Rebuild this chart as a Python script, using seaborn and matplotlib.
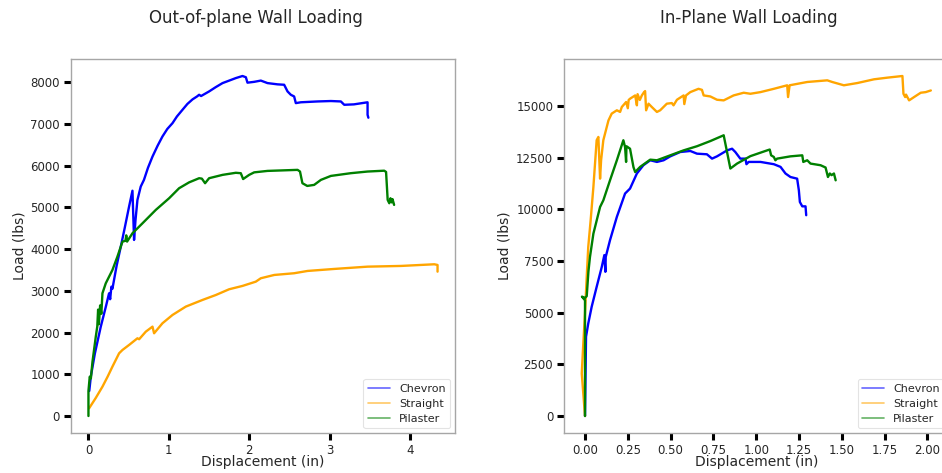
import matplotlib
matplotlib.use("Agg")
import matplotlib.pyplot as plt
from matplotlib.ticker import MultipleLocator, FormatStrFormatter
from matplotlib.lines import Line2D
import seaborn as sns
import pandas as pd

# ---------------- data ----------------
series_names = ["Chevron", "Straight", "Pilaster"]
series_colors = ["blue", "orange", "green"]
titles = ["Out-of-plane Wall Loading", "In-Plane Wall Loading"]
x_label = "Displacement (in)"
y_label = "Load (lbs)"

oop_chevron_x = [0.01, 0.03, 0.08, 0.153, 0.22, 0.256, 0.27, 0.285, 0.298, 0.35, 0.402, 0.45, 0.505, 0.547,
                 0.567, 0.585, 0.609, 0.65, 0.69, 0.74, 0.796, 0.86, 0.92, 0.98, 1.045, 1.10, 1.169, 1.23,
                 1.294, 1.35, 1.376, 1.40, 1.50, 1.58, 1.667, 1.75, 1.832, 1.915, 1.957, 1.977, 2.06, 2.143,
                 2.226, 2.35, 2.433, 2.475, 2.516, 2.557, 2.578, 2.64, 2.848, 3.014, 3.138, 3.18, 3.30,
                 3.47, 3.47, 3.48]
oop_chevron_y = [600, 950, 1500, 2140, 2650, 2940, 2800, 3100, 3050, 3600, 4060, 4500, 5020, 5400,
                 4220, 4700, 5180, 5500, 5660, 5950, 6218, 6480, 6700, 6880, 7020, 7180, 7340, 7480,
                 7590, 7660, 7700, 7670, 7780, 7880, 7980, 8040, 8100, 8150, 8120, 7990, 8010, 8040,
                 7980, 7950, 7940, 7780, 7700, 7660, 7500, 7520, 7540, 7550, 7540, 7460, 7470,
                 7520, 7220, 7150]

oop_straight_x = [0.008, 0.09, 0.174, 0.24, 0.298, 0.381, 0.423, 0.505, 0.609, 0.63, 0.713, 0.796, 0.816,
                  0.92, 1.045, 1.21, 1.418, 1.583, 1.749, 1.915, 2.08, 2.143, 2.31, 2.557, 2.724, 3.055,
                  3.47, 3.885, 4.30, 4.34, 4.34]
oop_straight_y = [185, 430, 703, 950, 1183, 1503, 1583, 1703, 1863, 1840, 2022, 2142, 1983,
                  2223, 2422, 2622, 2782, 2900, 3038, 3118, 3220, 3302, 3381, 3422, 3477, 3525,
                  3580, 3597, 3637, 3620, 3460]

oop_pilaster_x = [0.0, 0.0, 0.016, 0.03, 0.05, 0.091, 0.11, 0.12, 0.13, 0.145, 0.16, 0.174, 0.215, 0.298,
                  0.36, 0.423, 0.46, 0.47, 0.48, 0.547, 0.672, 0.837, 1.003, 1.127, 1.251, 1.376, 1.41,
                  1.45, 1.50, 1.667, 1.832, 1.894, 1.923, 1.998, 2.06, 2.226, 2.60, 2.63, 2.66, 2.72,
                  2.806, 2.89, 3.014, 3.26, 3.47, 3.677, 3.70, 3.72, 3.74, 3.755, 3.77, 3.78, 3.80]
oop_pilaster_y = [0, 600, 943, 900, 1300, 1900, 2150, 2550, 2200, 2650, 2450, 2942, 3180, 3500,
                  3820, 4180, 4200, 4330, 4180, 4380, 4620, 4940, 5220, 5460, 5600, 5700, 5690,
                  5580, 5700, 5780, 5830, 5820, 5680, 5780, 5840, 5875, 5900, 5860, 5580, 5515,
                  5540, 5660, 5755, 5820, 5860, 5880, 5850, 5180, 5100, 5220, 5120, 5200, 5060]

ip_chevron_x = [0.0, 0.006, 0.019, 0.039, 0.068, 0.098, 0.113, 0.119, 0.121, 0.146, 0.186, 0.234, 0.263,
                0.303, 0.341, 0.381, 0.42, 0.459, 0.498, 0.556, 0.615, 0.654, 0.712, 0.742, 0.771, 0.83,
                0.859, 0.878, 0.907, 0.937, 0.943, 0.956, 1.025, 1.103, 1.142, 1.171, 1.20, 1.239, 1.249,
                1.255, 1.269, 1.288, 1.292]
ip_chevron_y = [0, 3840, 4480, 5290, 6250, 7220, 7790, 6980, 7700, 8510, 9640, 10770, 11010,
                11740, 12140, 12380, 12300, 12380, 12570, 12780, 12830, 12700, 12670, 12460, 12570, 12860,
                12940, 12780, 12460, 12460, 12190, 12300, 12300, 12190, 12060, 11740, 11570, 11490, 10930,
                10360, 10150, 10150, 9720]

ip_straight_x = [0.0, -0.019, -0.01, 0.0, 0.01, 0.019, 0.033, 0.049, 0.068, 0.078, 0.088, 0.094, 0.107,
                 0.117, 0.137, 0.156, 0.186, 0.205, 0.215, 0.24, 0.25, 0.255, 0.263, 0.293, 0.303, 0.307,
                 0.32, 0.332, 0.345, 0.351, 0.357, 0.371, 0.39, 0.42, 0.439, 0.478, 0.507, 0.517, 0.537,
                 0.576, 0.58, 0.59, 0.615, 0.663, 0.683, 0.693, 0.732, 0.771, 0.81, 0.868, 0.927, 0.966,
                 1.025, 1.103, 1.181, 1.186, 1.195, 1.298, 1.415, 1.444, 1.512, 1.591, 1.688, 1.766,
                 1.854, 1.86, 1.87, 1.875, 1.893, 1.922, 1.961, 1.99, 2.02]
ip_straight_y = [0, 2060, 3510, 4970, 6740, 8190, 9480, 11090, 13350, 13510, 11490, 12380, 13350,
                 13670, 14310, 14640, 14800, 14720, 14960, 15200, 14900, 15300, 15360, 15520, 15040, 15580,
                 15300, 15520, 15680, 15730, 14800, 15120, 14960, 14720, 14800, 15120, 15150, 15040, 15310,
                 15520, 15100, 15520, 15680, 15840, 15790, 15520, 15470, 15310, 15280, 15520, 15650, 15600,
                 15680, 15840, 16010, 15440, 16010, 16170, 16250, 16170, 16010, 16120, 16300, 16380,
                 16460, 15600, 15440, 15560, 15280, 15440, 15650, 15680, 15760]

ip_pilaster_x = [0.0, 0.0, -0.018, 0.0, 0.01, 0.02, 0.029, 0.049, 0.088, 0.107, 0.146, 0.186, 0.224,
                 0.234, 0.24, 0.242, 0.263, 0.283, 0.293, 0.322, 0.381, 0.42, 0.498, 0.576, 0.654, 0.732,
                 0.81, 0.849, 0.888, 0.966, 1.064, 1.079, 1.087, 1.103, 1.112, 1.122, 1.20, 1.269, 1.275,
                 1.298, 1.317, 1.376, 1.405, 1.419, 1.43, 1.44, 1.454, 1.464]
ip_pilaster_y = [0, 5600, 5780, 5720, 5800, 7000, 7700, 8830, 10120, 10440, 11410, 12380, 13350,
                 13020, 12300, 13060, 12940, 12050, 11810, 12060, 12410, 12380, 12620, 12860, 13060, 13310,
                 13590, 11980, 12220, 12580, 12860, 12900, 12620, 12540, 12380, 12460, 12570, 12620, 12300,
                 12380, 12220, 12140, 12030, 11570, 11740, 11660, 11740, 11410]


def long_table(xs_list, ys_list):
    frames = []
    for name, xs, ys in zip(series_names, xs_list, ys_list):
        frames.append(pd.DataFrame({"x": xs, "y": ys, "series": name}))
    return pd.concat(frames, ignore_index=True)


oop_df = long_table([oop_chevron_x, oop_straight_x, oop_pilaster_x],
                    [oop_chevron_y, oop_straight_y, oop_pilaster_y])
ip_df = long_table([ip_chevron_x, ip_straight_x, ip_pilaster_x],
                   [ip_chevron_y, ip_straight_y, ip_pilaster_y])

# ---------------- style ----------------
sns.set_theme(style="ticks")
plt.rcParams["font.family"] = ["DejaVu Sans"]
text_color = "#262626"
plt.rcParams.update({
    "axes.edgecolor": "#a6a6a6",
    "axes.linewidth": 1.0,
    "xtick.color": "black",
    "ytick.color": "black",
    "xtick.labelcolor": text_color,
    "ytick.labelcolor": text_color,
    "xtick.major.size": 5,
    "ytick.major.size": 5,
    "xtick.major.width": 2.2,
    "ytick.major.width": 2.2,
    "xtick.major.pad": 3,
    "ytick.major.pad": 3,
    "xtick.labelsize": 8.5,
    "ytick.labelsize": 8.5,
    "axes.labelcolor": text_color,
})

fig = plt.figure(figsize=(9.42, 4.73), dpi=100)
W, H = 942.0, 473.0
ax_w, ax_h = 384.0, 374.0
ax1 = fig.add_axes([71.0 / W, 40.0 / H, ax_w / W, ax_h / H])
ax2 = fig.add_axes([564.3 / W, 40.0 / H, ax_w / W, ax_h / H])

palette = dict(zip(series_names, series_colors))

for ax, df, title, shift in [(ax1, oop_df, titles[0], 0.0), (ax2, ip_df, titles[1], 1.0)]:
    sns.lineplot(data=df, x="x", y="y", hue="series", hue_order=series_names, palette=palette,
                 sort=False, estimator=None, units="series", linewidth=1.7, ax=ax, legend=False)
    ax.set_xlabel(x_label, fontsize=10, labelpad=-1.2)
    ax.set_ylabel(y_label, fontsize=10, labelpad=3)
    ax.set_title(title, fontsize=12, color=text_color, pad=26, x=0.481)
    for sp in ax.spines.values():
        sp.set_visible(True)
        sp.set_color("#a6a6a6")
        sp.set_linewidth(1.0)
    handles = [Line2D([0], [0], color=c, lw=1.2, alpha=0.6) for c in series_colors]
    leg = ax.legend(handles, series_names, loc="lower right", fontsize=8, frameon=True,
                    bbox_to_anchor=(1 + shift / ax_w, 0), borderaxespad=0.45,
                    handlelength=2.0, labelspacing=0.45)
    leg.get_frame().set_edgecolor("#dddddd")
    leg.get_frame().set_linewidth(0.8)
    for t in leg.get_texts():
        t.set_color(text_color)

ax1.xaxis.set_major_locator(MultipleLocator(1))
ax1.yaxis.set_major_locator(MultipleLocator(1000))
ax2.xaxis.set_major_locator(MultipleLocator(0.25))
ax2.yaxis.set_major_locator(MultipleLocator(2500))
ax2.xaxis.set_major_formatter(FormatStrFormatter("%.2f"))

fig.savefig("out.png", dpi=100)
